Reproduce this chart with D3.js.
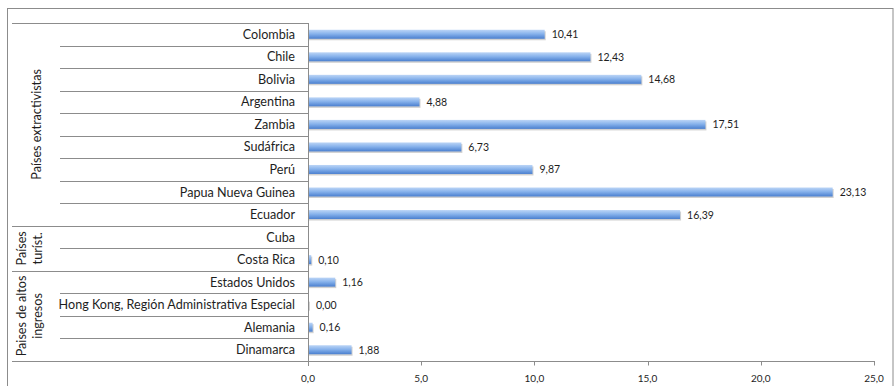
<!DOCTYPE html>
<html><head><meta charset="utf-8">
<script src="https://cdn.jsdelivr.net/npm/d3@7"></script>
<style>body{margin:0;background:#fff}svg{display:block;font-family:Lato,"Open Sans",sans-serif}</style>
</head><body><svg id="c" width="894" height="386"></svg>
<script>
const categories = ["Colombia","Chile","Bolivia","Argentina","Zambia","Sudáfrica","Perú","Papua Nueva Guinea","Ecuador","Cuba","Costa Rica","Estados Unidos","Hong Kong, Región Administrativa Especial","Alemania","Dinamarca"];
const values = [10.41,12.43,14.68,4.88,17.51,6.73,9.87,23.13,16.39,null,0.10,1.16,0.00,0.16,1.88];
const groupNames = [["Países extractivistas"],["Países","turíst."],["Paises de altos","ingresos"]];
const groupSizes = [9,2,4];
const xTicks = [0,5,10,15,20,25];

const svg = d3.select("#c");
const x0=308, x1=874, yTop=23, yBot=361;
const x = d3.scaleLinear().domain([0,25]).range([x0,x1]);
const y = d3.scaleBand().domain(categories).range([yTop,yBot]);
const fmt = v => d3.format(".2f")(v).replace(".",",");
const lineCol="#8c8c8c";
const txtCol="#1e1e1e";

svg.append("rect").attr("x",7.5).attr("y",8.5).attr("width",885.5).attr("height",390).attr("fill","none").attr("stroke",lineCol).attr("stroke-width",1);

const defs=svg.append("defs");
const g=defs.append("linearGradient").attr("id","bg").attr("x1",0).attr("y1",0).attr("x2",0).attr("y2",1);
g.append("stop").attr("offset","0%").attr("stop-color","#bcd5f6");
g.append("stop").attr("offset","45%").attr("stop-color","#88b3ec");
g.append("stop").attr("offset","100%").attr("stop-color","#4a7fcf");

const bw=y.bandwidth();
let boundaries=[]; let acc=0; groupSizes.forEach(s=>{acc+=s;boundaries.push(acc);});
categories.forEach((c,i)=>{
  if(i===0) return;
  const yy=Math.round(y(c))+0.5;
  const isGroup=boundaries.includes(i);
  svg.append("line").attr("x1",isGroup?12:60).attr("x2",x0).attr("y1",yy).attr("y2",yy).attr("stroke",lineCol);
});
svg.append("line").attr("x1",12).attr("x2",x0).attr("y1",yTop+0.5).attr("y2",yTop+0.5).attr("stroke",lineCol);
svg.append("line").attr("x1",12).attr("x2",x0).attr("y1",yBot+0.5).attr("y2",yBot+0.5).attr("stroke",lineCol);
svg.append("line").attr("x1",x0+0.5).attr("x2",x0+0.5).attr("y1",yTop).attr("y2",yBot+5).attr("stroke",lineCol);

const xa=svg.append("g").attr("transform",`translate(0,${yBot+0.5})`);
xa.append("line").attr("x1",x0).attr("x2",x1+1).attr("stroke",lineCol);
xTicks.forEach(t=>{
  xa.append("line").attr("x1",Math.round(x(t))+0.5).attr("x2",Math.round(x(t))+0.5).attr("y1",0).attr("y2",4).attr("stroke",lineCol);
  xa.append("text").attr("x",x(t)).attr("y",20).attr("text-anchor","middle").attr("font-size",10).attr("fill",txtCol).text(d3.format(".1f")(t).replace(".",","));
});

svg.selectAll(".cl").data(categories).enter().append("text")
  .attr("x",295).attr("y",d=>y(d)+bw/2+4.5).attr("text-anchor","end").attr("font-size",12.6).attr("fill",txtCol).text(d=>d);

let start=0;
groupSizes.forEach((s,gi)=>{
  const ya=y(categories[start]), yb=y(categories[start+s-1])+bw;
  const cy=(ya+yb)/2;
  const lines=groupNames[gi];
  const xs = lines.length===1?[41]:[26,42];
  lines.forEach((t,li)=>{
    svg.append("text").attr("transform",`translate(${xs[li]},${cy}) rotate(-90)`).attr("text-anchor","middle").attr("font-size",12.6).attr("fill",txtCol).text(t);
  });
  start+=s;
});

const bh=9;
const data=categories.map((c,i)=>({c,v:values[i]})).filter(d=>d.v!==null);
svg.selectAll(".sh").data(data).enter().append("rect")
  .attr("x",x0+1).attr("y",d=>y(d.c)+bw/2-bh/2+1.5).attr("width",d=>Math.max(0,x(d.v)-x0+1)).attr("height",bh).attr("fill","#9a9a9a").attr("opacity",0.45);
svg.selectAll(".bar").data(data).enter().append("rect")
  .attr("x",x0+1).attr("y",d=>y(d.c)+bw/2-bh/2).attr("width",d=>Math.max(0,x(d.v)-x0)).attr("height",bh).attr("fill","url(#bg)");
svg.selectAll(".vl").data(data).enter().append("text")
  .attr("x",d=>x(d.v)+8).attr("y",d=>y(d.c)+bw/2+4).attr("font-size",10.5).attr("fill",txtCol).text(d=>fmt(d.v));
</script></body></html>
